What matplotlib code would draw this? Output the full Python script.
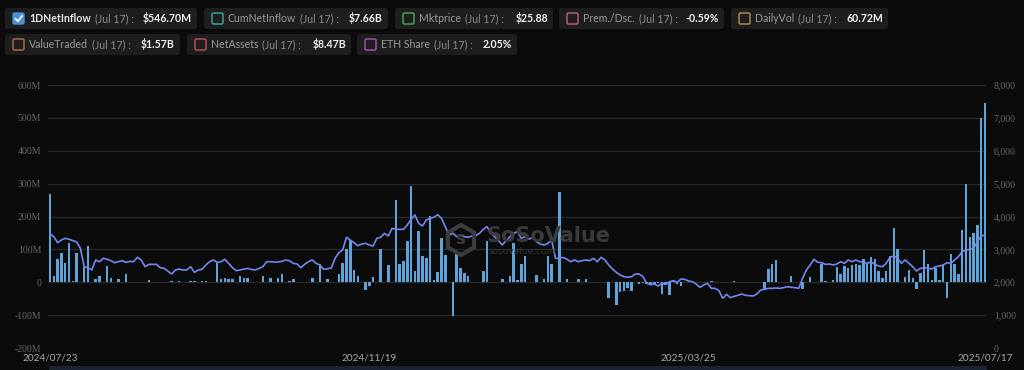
import matplotlib
matplotlib.use('Agg')
import matplotlib.pyplot as plt
import numpy as np
from matplotlib.patches import FancyBboxPatch, Rectangle, RegularPolygon
from matplotlib.transforms import IdentityTransform
from matplotlib.lines import Line2D

# ---------------- data ----------------
date_labels = ["2024/07/23", "2024/11/19", "2025/03/25", "2025/07/17"]
date_label_idx = [0, 84, 168, 246]

# daily net inflow, millions USD (one per trading day 2024/07/23 .. 2025/07/17)
inflow = [
    267, 18, 71, 88, 59, 119, 5, 89, 0, 47,
    110, 0, 11, 18, 0, 49, 14, 0, 10, 0,
    26, 0, 0, 0, 0, 0, 8, 0, 0, 0,
    0, 0, 4, 0, 4, 0, 0, 3, 3, 0,
    4, 4, 0, 0, 60, 9, 14, 11, 11, 0,
    18, 12, 14, 0, 0, 0, 18, 0, 14, 0,
    12, 24, 0, 4, 11, 0, 2, 0, 2, 12,
    0, 54, 0, 11, 0, 0, 24, 59, 100, 130,
    37, 19, 0, -23, -12, 16, 0, 100, 0, 51,
    0, 250, 55, 65, 124, 293, 35, 155, 81, 74,
    202, 8, 31, 135, 82, 0, -104, 89, 44, 28,
    20, 0, 0, 0, 34, 126, 0, 0, 0, 11,
    0, 20, 118, 8, 57, 79, 0, 0, 21, 0,
    9, 79, 57, 0, 276, 0, 10, 0, 0, 11,
    0, 11, 0, 0, 0, 0, 0, -48, 0, -69,
    -29, -28, -18, -27, 0, -4, -3, -5, -4, -6,
    -3, -36, -8, -40, 3, -5, -10, 0, 0, 0,
    0, 0, 0, 0, 3, 0, 0, 0, 0, 2,
    4, 0, 0, 0, 2, 0, 0, 0, -24, 40,
    54, 67, 0, 0, 0, 20, 0, 0, -22, 0,
    17, 0, 0, 57, 4, 0, 6, 47, 25, 48,
    42, 52, 55, 52, 70, 55, 77, 72, 34, 14,
    35, 80, 164, 100, 0, 16, 36, 14, -20, 28,
    98, 55, 8, 42, 8, 52, -47, 85, 57, 24,
    159, 300, 138, 151, 173, 500, 546.7,
]

# ETH price, USD (right axis)
eth_price = [
    3468, 3386, 3203, 3285, 3337, 3306, 3264, 3224, 3032, 2473,
    2443, 2373, 2677, 2625, 2728, 2698, 2656, 2595, 2625, 2656,
    2605, 2635, 2625, 2758, 2677, 2473, 2545, 2545, 2545, 2443,
    2423, 2342, 2251, 2373, 2403, 2373, 2373, 2473, 2302, 2373,
    2393, 2525, 2625, 2677, 2605, 2625, 2698, 2575, 2443, 2352,
    2373, 2400, 2420, 2390, 2373, 2420, 2473, 2625, 2625, 2615,
    2615, 2635, 2677, 2656, 2575, 2555, 2443, 2545, 2625, 2677,
    2575, 2525, 2393, 2413, 2430, 2728, 2900, 2981, 3367, 3285,
    3203, 3112, 3163, 3183, 3133, 3102, 3337, 3367, 3488, 3407,
    3641, 3610, 3610, 3610, 3741, 3914, 4045, 3793, 3711, 3894,
    3944, 3975, 4055, 3944, 3691, 3437, 3488, 3386, 3437, 3386,
    3366, 3407, 3420, 3488, 3610, 3691, 3488, 3386, 3264, 3133,
    3264, 3386, 3488, 3539, 3337, 3386, 3316, 3356, 3234, 3163,
    3133, 3183, 3285, 2728, 2728, 2758, 2698, 2625, 2677, 2625,
    2656, 2677, 2656, 2728, 2625, 2758, 2677, 2525, 2403, 2302,
    2221, 2170, 2150, 2170, 2251, 2251, 2170, 1968, 1927, 1947,
    1886, 1968, 1937, 2017, 2048, 1998, 2099, 2089, 2038, 2018,
    1947, 1846, 1917, 1968, 1815, 1815, 1744, 1511, 1633, 1531,
    1572, 1602, 1643, 1602, 1592, 1582, 1643, 1764, 1785, 1815,
    1815, 1825, 1815, 1835, 1866, 1846, 1835, 1815, 2119, 2373,
    2525, 2698, 2606, 2595, 2545, 2555, 2525, 2555, 2625, 2575,
    2677, 2625, 2677, 2625, 2615, 2575, 2625, 2545, 2494, 2473,
    2575, 2758, 2798, 2728, 2575, 2677, 2575, 2473, 2342, 2423,
    2443, 2433, 2403, 2473, 2494, 2525, 2595, 2575, 2677, 2779,
    2930, 2981, 3002, 3032, 3234, 3407, 3437,
]

left_ticks = [-200, -100, 0, 100, 200, 300, 400, 500, 600]
left_tick_labels = ["-200M", "-100M", "0", "100M", "200M", "300M", "400M", "500M", "600M"]
right_ticks = [0, 1000, 2000, 3000, 4000, 5000, 6000, 7000, 8000]
right_tick_labels = ["0", "1,000", "2,000", "3,000", "4,000", "5,000", "6,000", "7,000", "8,000"]

legend_row1 = [
    ("1DNetInflow", "(Jul 17) :", "$546.70M", "#4a8fd8", True),
    ("CumNetInflow", "(Jul 17) :", "$7.66B", "#3a9f98", False),
    ("Mktprice", "(Jul 17) :", "$25.88", "#44a052", False),
    ("Prem./Dsc.", "(Jul 17) :", "-0.59%", "#b85a72", False),
    ("DailyVol", "(Jul 17) :", "60.72M", "#a8884c", False),
]
legend_row2 = [
    ("ValueTraded", "(Jul 17) :", "$1.57B", "#a8684a", False),
    ("NetAssets", "(Jul 17) :", "$8.47B", "#b24e58", False),
    ("ETH Share", "(Jul 17) :", "2.05%", "#9c50ac", False),
]

# ---------------- figure ----------------
W, H = 1024, 370
BG = '#0b0b0b'
fig = plt.figure(figsize=(W / 100, H / 100), dpi=100)
fig.patch.set_facecolor(BG)

def fx(x):
    return x / W

def fy(y):
    return 1 - y / H

ax_l, ax_r = 48.1, 986.9
ax_t, ax_b = 85, 348
ax = fig.add_axes([fx(ax_l), fy(ax_b), (ax_r - ax_l) / W, (ax_b - ax_t) / H])
ax.set_facecolor(BG)
idx = np.arange(len(inflow))
ax.bar(idx, inflow, width=0.66, color='#5ea3da', zorder=2)
ax.set_xlim(-0.5, len(inflow) - 0.5)
ax.set_ylim(-200, 600)
ax.set_yticks(left_ticks)
ax.set_yticklabels(left_tick_labels)
ax.yaxis.grid(True, color='#2a2a2a', linewidth=0.9, zorder=0)
ax.set_axisbelow(True)
ax.tick_params(axis='y', length=0, pad=5, labelsize=7, labelcolor='#666666')
for lab in ax.get_yticklabels():
    lab.set_fontfamily('Liberation Serif')
ax.set_xticks(date_label_idx)
ax.set_xticklabels(date_labels)
ax.tick_params(axis='x', length=0, pad=4, labelsize=7.2, labelcolor='#a8a8a8')
for lab in ax.get_xticklabels():
    lab.set_fontfamily('Lato')
for s in ax.spines.values():
    s.set_visible(False)

ax2 = ax.twinx()
ax2.plot(idx, eth_price, color='#7486ee', linewidth=1.2, zorder=3)
ax2.set_ylim(0, 8000)
ax2.set_yticks(right_ticks)
ax2.set_yticklabels(right_tick_labels)
ax2.tick_params(axis='y', length=0, pad=5, labelsize=7, labelcolor='#666666')
for lab in ax2.get_yticklabels():
    lab.set_fontfamily('Liberation Serif')
for s in ax2.spines.values():
    s.set_visible(False)

# ---------------- legend boxes ----------------
ID = IdentityTransform()

def box(x0, y0, x1, y1, color, r=2.5):
    p = FancyBboxPatch((x0, H - y1), x1 - x0, y1 - y0,
                       boxstyle=f"round,pad=0,rounding_size={r}",
                       transform=ID, facecolor=color, edgecolor='none', zorder=1)
    fig.add_artist(p)

def square(x0, y0, size, color, filled):
    if filled:
        p = FancyBboxPatch((x0, H - y0 - size), size, size,
                           boxstyle="round,pad=0,rounding_size=1.5",
                           transform=ID, facecolor=color, edgecolor=color, zorder=2)
        fig.add_artist(p)
        xs = [x0 + 2.5, x0 + 4.8, x0 + 9.0]
        ys = [H - y0 - 5.8, H - y0 - 8.3, H - y0 - 3.0]
        fig.add_artist(Line2D(xs, ys, transform=ID, color='white', linewidth=1.3, zorder=3))
    else:
        p = FancyBboxPatch((x0, H - y0 - size), size, size,
                           boxstyle="round,pad=0,rounding_size=1.5",
                           transform=ID, facecolor='none', edgecolor=color,
                           linewidth=1.1, zorder=2)
        fig.add_artist(p)

row1_boxes = [(5, 197), (204, 388), (395, 553), (559, 724), (731, 888)]
row2_boxes = [(5, 180), (187, 351), (357, 517)]
FS = 7.6
FONT = 'Lato'

def draw_row(items, boxes, y0, y1):
    yc = (y0 + y1) / 2
    for (name, datepart, value, col, checked), (bx0, bx1) in zip(items, boxes):
        box(bx0, y0, bx1, y1, '#1e1e1e')
        square(bx0 + 8, yc - 5.5, 11, col, checked)
        t = fig.text(fx(bx0 + 24), fy(yc), name, fontsize=FS, family=FONT,
                     color='#e6e6e6' if checked else '#9a9a9a',
                     weight='bold' if checked else 'normal', va='center', ha='left')
        fig.canvas.draw() if False else None
        fig.text(fx(bx1 - 5), fy(yc), value, fontsize=FS, family=FONT,
                 color='#f2f2f2', weight='bold', va='center', ha='right')
        items_t.append((t, datepart, bx0))

items_t = []
draw_row(legend_row1, row1_boxes, 8, 29)
draw_row(legend_row2, row2_boxes, 34, 55)

# place the "(Jul 17) :" parts right after the names
fig.canvas.draw()
renderer = fig.canvas.get_renderer()
for t, datepart, bx0 in items_t:
    bb = t.get_window_extent(renderer)
    yc_fig = t.get_position()[1]
    fig.text((bb.x1 + 4) / W, yc_fig, datepart, fontsize=FS, family=FONT,
             color='#8a8a8a', va='center', ha='left')

# ---------------- watermark ----------------
hexp = RegularPolygon((461, H - 240), numVertices=6, radius=15, orientation=0,
                      transform=ID, facecolor='none', edgecolor='#3c3c3c',
                      linewidth=3, zorder=5)
fig.add_artist(hexp)
fig.text(fx(461), fy(240), "S", fontsize=10, family='DejaVu Sans', weight='bold',
         color='#3c3c3c', ha='center', va='center')
fig.text(fx(486), fy(236), "SoSoValue", fontsize=15, family='DejaVu Sans', weight='bold',
         color='#3a3a3a', ha='left', va='center')
fig.text(fx(489), fy(251), "sosovalue.com", fontsize=6.5, family='DejaVu Sans',
         color='#333333', ha='left', va='center')

# ---------------- bottom slider strip ----------------
fig.add_artist(Rectangle((49, 0), 938, 4, transform=ID, facecolor='#1b2232',
                         edgecolor='none'))

fig.savefig('out.png', dpi=100, facecolor=BG)
